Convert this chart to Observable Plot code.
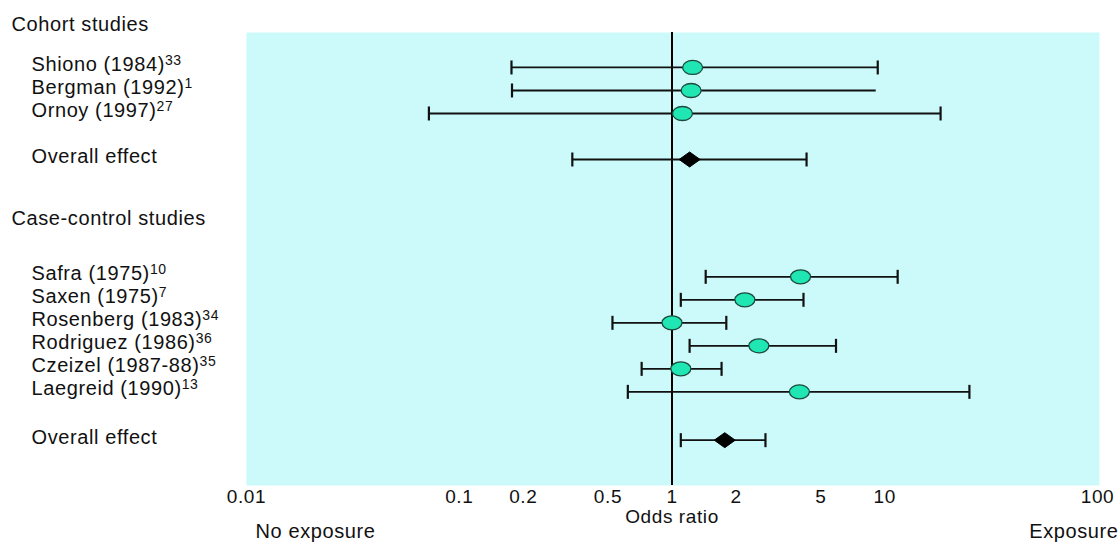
<!DOCTYPE html>
<html>
<head>
<meta charset="utf-8">
<script src="https://cdn.jsdelivr.net/npm/d3@7"></script>
<script src="https://cdn.jsdelivr.net/npm/@observablehq/plot@0.6"></script>
<style>
  body { margin: 0; background: #ffffff; }
  #chart svg text { letter-spacing: 0.6px; }
</style>
</head>
<body>
<div id="chart"></div>
<script>
// ---- data ----
const groupNames = ["Cohort studies", "Case-control studies"];
const groupRows = [-1.85, 6.55];

const studyNames = ["Shiono (1984)", "Bergman (1992)", "Ornoy (1997)", "Overall effect",
  "Safra (1975)", "Saxen (1975)", "Rosenberg (1983)", "Rodriguez (1986)",
  "Czeizel (1987-88)", "Laegreid (1990)", "Overall effect"];
const studyRefs = ["33", "1", "27", "", "10", "7", "34", "36", "35", "13", ""];
const studyRows = [0, 1, 2, 4, 9.1, 10.1, 11.1, 12.1, 13.1, 14.1, 16.2];
const isOverall = [false, false, false, true, false, false, false, false, false, false, true];
const oddsRatio = [1.25, 1.23, 1.12, 1.21, 4.02, 2.20, 1.00, 2.56, 1.10, 3.97, 1.77];
const ciLow = [0.176, 0.177, 0.072, 0.34, 1.44, 1.10, 0.525, 1.21, 0.72, 0.62, 1.10];
const ciHigh = [9.27, 9.12, 18.3, 4.29, 11.5, 4.15, 1.80, 5.9, 1.71, 25.0, 2.75];
const highCapped = [true, false, true, true, true, true, true, true, true, true, true];

const tickValues = [0.01, 0.1, 0.2, 0.5, 1, 2, 5, 10, 100];
const tickLabels = ["0.01", "0.1", "0.2", "0.5", "1", "2", "5", "10", "100"];
const axisTitle = "Odds ratio";
const leftNote = "No exposure";
const rightNote = "Exposure";

// ---- derived tables ----
const rows = studyNames.map((name, i) => ({
  name, ref: studyRefs[i], row: studyRows[i], overall: isOverall[i],
  or: oddsRatio[i], lo: ciLow[i], hi: ciHigh[i]
}));
const refByName = new Map(rows.filter(d => d.ref).map(d => [d.name, d.ref]));
const caps = rows.flatMap((d, i) => [
  {x: d.lo, row: d.row},
  ...(highCapped[i] ? [{x: d.hi, row: d.row}] : [])
]);
const groups = groupNames.map((name, i) => ({name, row: groupRows[i]}));

// custom symbols
const ellipse = {
  draw(ctx) {
    const rx = 10, ry = 7, k = 0.5523;
    ctx.moveTo(rx, 0);
    ctx.bezierCurveTo(rx, ry * k, rx * k, ry, 0, ry);
    ctx.bezierCurveTo(-rx * k, ry, -rx, ry * k, -rx, 0);
    ctx.bezierCurveTo(-rx, -ry * k, -rx * k, -ry, 0, -ry);
    ctx.bezierCurveTo(rx * k, -ry, rx, -ry * k, rx, 0);
    ctx.closePath();
  }
};
const diamond = {
  draw(ctx) {
    ctx.moveTo(0, -7.5);
    ctx.lineTo(10.5, 0);
    ctx.lineTo(0, 7.5);
    ctx.lineTo(-10.5, 0);
    ctx.closePath();
  }
};
const capSymbol = {
  draw(ctx) {
    ctx.moveTo(0, -7);
    ctx.lineTo(0, 7);
  }
};

const W = 1120, H = 545;
const chart = Plot.plot({
  width: W,
  height: H,
  marginLeft: 246,
  marginRight: 21,
  marginTop: 32,
  marginBottom: 60,
  style: {fontFamily: "'Liberation Sans', Arial, Helvetica, sans-serif", background: "#ffffff", color: "#111"},
  x: {type: "log", domain: [0.01, 100], range: [246, 1097], axis: null},
  y: {domain: [-1.52, 18.17], reverse: true, axis: null},
  marks: [
    Plot.frame({fill: "#ccfafa", stroke: null}),
    Plot.ruleX([1], {stroke: "#000", strokeWidth: 2}),
    Plot.ruleY(rows, {x1: "lo", x2: "hi", y: "row", stroke: "#111", strokeWidth: 1.8}),
    Plot.dot(caps, {x: "x", y: "row", symbol: capSymbol, fill: "none", stroke: "#111", strokeWidth: 2.2}),
    Plot.dot(rows.filter(d => !d.overall), {x: "or", y: "row", symbol: ellipse, fill: "#1fe6b3", stroke: "#1d4a3c", strokeWidth: 1.3}),
    Plot.dot(rows.filter(d => d.overall), {x: "or", y: "row", symbol: diamond, fill: "#000", stroke: "#000", strokeWidth: 1}),
    Plot.text(groups, {y: "row", text: "name", frameAnchor: "left", textAnchor: "start", dx: -235, fontSize: 20, fill: "#111"}),
    Plot.text(rows, {y: "row", text: "name", frameAnchor: "left", textAnchor: "start", dx: -215, dy: -3, fontSize: 20, fill: "#111"}),
    Plot.text(tickValues, {x: d => d, text: (d, i) => tickLabels[i], frameAnchor: "bottom", dy: 17, fontSize: 19, fill: "#111"}),
    Plot.text([axisTitle], {x: () => 1, text: d => d, frameAnchor: "bottom", dy: 37, fontSize: 19, fill: "#111"}),
    Plot.text([leftNote], {text: d => d, frameAnchor: "bottom-left", textAnchor: "start", dx: 9, dy: 52, fontSize: 20, fill: "#111"}),
    Plot.text([rightNote], {text: d => d, frameAnchor: "bottom-right", textAnchor: "end", dx: 19, dy: 52, fontSize: 20, fill: "#111"})
  ]
});

// add superscript reference numbers
d3.select(chart).selectAll("text").each(function() {
  const ref = refByName.get(this.textContent);
  if (ref) {
    d3.select(this).append("tspan")
      .attr("dy", "-0.45em")
      .attr("font-size", 14)
      .text(ref);
  }
});

document.getElementById("chart").appendChild(chart);
</script>
</body>
</html>
